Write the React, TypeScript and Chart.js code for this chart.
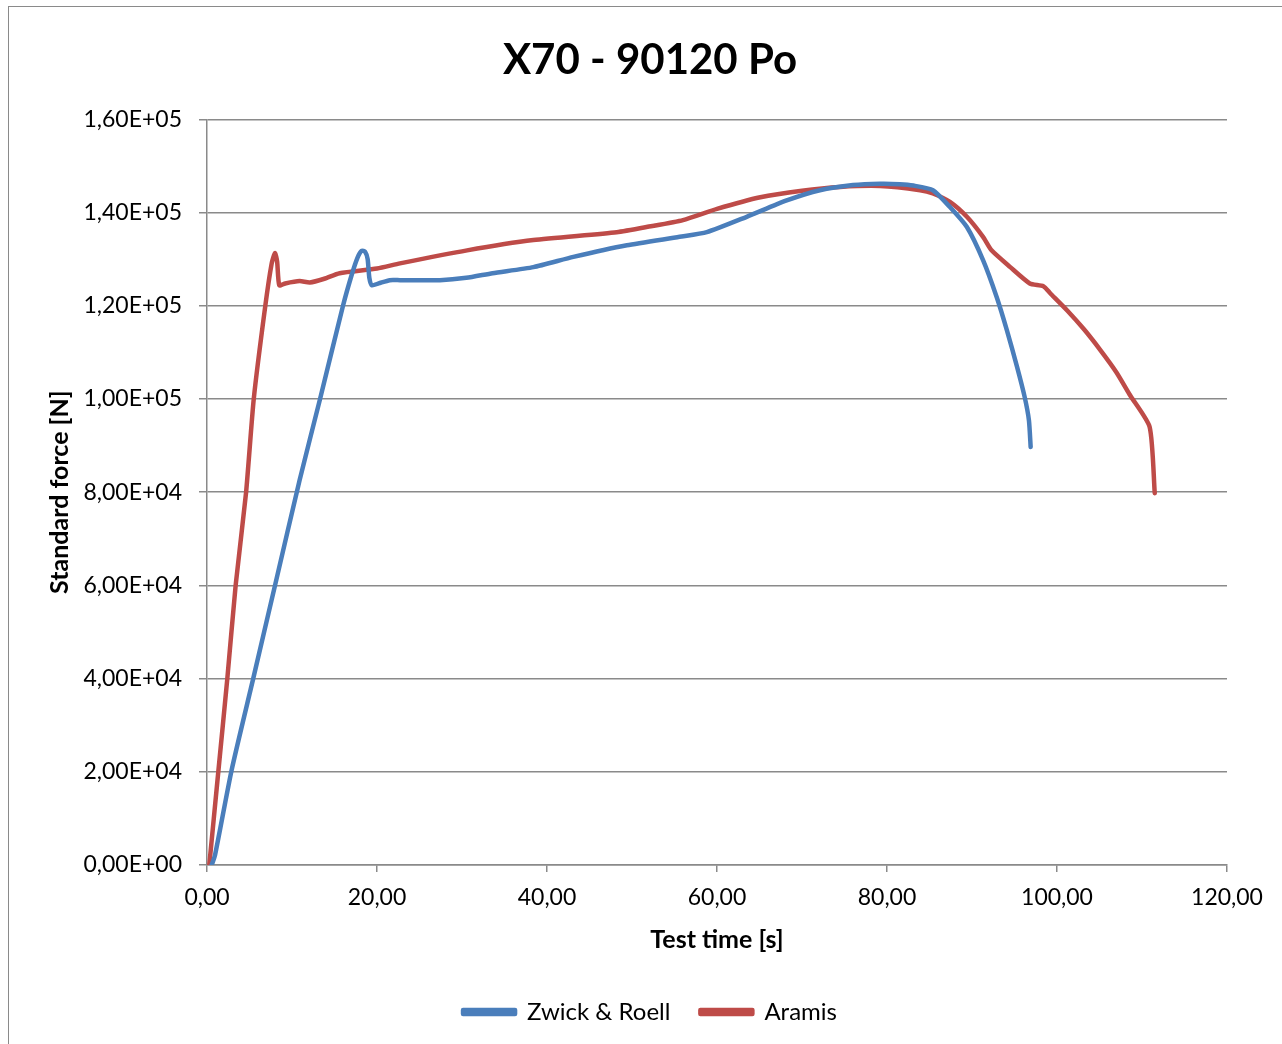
import React, { useEffect, useRef } from "react";
import { Chart, registerables } from "chart.js";

Chart.register(...registerables);

const TITLE = "X70 - 90120 Po";
const X_TITLE = "Test time [s]";
const Y_TITLE = "Standard force [N]";

const zwickLabel = "Zwick & Roell";
const zwickTime = [0.55, 0.94, 2.9, 5.45, 8.0, 10.9, 13.3, 16.0, 17.0, 17.7, 18.2, 18.6, 18.9, 19.1, 19.4, 20.2, 21.5, 22.7, 27.4, 30.5, 33.6, 38.4, 43.1, 49.4, 55.6, 58.8, 63.5, 68.2, 72.1, 76.0, 79.2, 81.5, 83.1, 85.4, 87.4, 89.4, 91.3, 92.9, 94.1, 95.3, 96.2, 96.7, 96.9];
const zwickForce = [0, 2100, 20400, 40100, 60000, 82600, 100000, 120000, 126500, 130300, 131800, 131600, 130000, 126000, 124400, 124800, 125500, 125500, 125500, 126000, 127000, 128300, 130500, 133000, 134800, 135800, 139100, 142600, 144800, 145900, 146200, 146100, 145800, 144800, 141200, 136900, 129800, 121900, 114800, 106900, 100400, 95400, 89700];

const aramisLabel = "Aramis";
const aramisTime = [0.27, 1.33, 2.39, 3.37, 4.6, 5.5, 6.86, 7.6, 8.0, 8.25, 8.5, 9.2, 10.9, 12.1, 13.8, 15.6, 20.0, 22.7, 30.6, 38.4, 48.2, 52.0, 56.0, 60.0, 65.1, 70.0, 74.5, 79.2, 83.9, 85.4, 87.4, 89.4, 91.3, 92.3, 94.5, 96.8, 98.4, 99.2, 101.2, 103.2, 105.1, 107.0, 108.6, 110.9, 111.5];
const aramisForce = [0, 20000, 40000, 60000, 80000, 100000, 120000, 129000, 131300, 129500, 124400, 124800, 125300, 125000, 125800, 127000, 128000, 129100, 131900, 134100, 135800, 137000, 138400, 140800, 143300, 144700, 145500, 145700, 144800, 144100, 142300, 139100, 134800, 131900, 128300, 124800, 124200, 122700, 119000, 114900, 110500, 105700, 100800, 94000, 79800];

const X_MIN = 0, X_MAX = 120, X_STEP = 20;
const Y_MIN = 0, Y_MAX = 160000, Y_STEP = 20000;

const FONT = "Lato, 'Open Sans', sans-serif";
const GRID = "#8a8a8a";

function fmtY(v: number): string {
  if (v === 0) return "0,00E+00";
  const e = Math.floor(Math.log10(Math.abs(v)) + 1e-9);
  const m = v / Math.pow(10, e);
  const sign = e < 0 ? "-" : "+";
  return m.toFixed(2).replace(".", ",") + "E" + sign + String(Math.abs(e)).padStart(2, "0");
}

export default function App() {
  const ref = useRef<HTMLCanvasElement | null>(null);
  useEffect(() => {
    document.body.style.margin = "0";
    document.documentElement.style.overflow = "hidden";
    const toPts = (xs: number[], ys: number[]) => xs.map((x, i) => ({ x, y: ys[i] }));
    const chart = new Chart(ref.current as HTMLCanvasElement, {
      type: "line",
      data: {
        datasets: [
          {
            label: zwickLabel,
            data: toPts(zwickTime, zwickForce),
            borderColor: "#4a7ebb",
            backgroundColor: "#4a7ebb",
            borderWidth: 4.5,
            pointRadius: 0,
            tension: 0.2,
            borderCapStyle: "round",
            borderJoinStyle: "round",
          },
          {
            label: aramisLabel,
            data: toPts(aramisTime, aramisForce),
            borderColor: "#be4b48",
            backgroundColor: "#be4b48",
            borderWidth: 4.5,
            pointRadius: 0,
            tension: 0.2,
            borderCapStyle: "round",
            borderJoinStyle: "round",
          },
        ],
      },
      options: {
        responsive: false,
        animation: false,
        devicePixelRatio: 1,
        layout: { padding: { left: 18, right: 0, top: 0, bottom: 10 } },
        plugins: {
          title: {
            display: true,
            text: TITLE,
            color: "#000",
            font: { family: FONT, size: 42, weight: "bold" },
            padding: { top: 35, bottom: 34 },
          },
          legend: {
            position: "bottom",
            labels: {
              color: "#000",
              font: { family: FONT, size: 24 },
              boxWidth: 52,
              boxHeight: 4,
              padding: 30,
            },
          },
          tooltip: { enabled: false },
        },
        scales: {
          x: {
            type: "linear",
            min: X_MIN,
            max: X_MAX,
            ticks: {
              stepSize: X_STEP,
              color: "#000",
              font: { family: FONT, size: 23 },
              padding: 12,
              maxRotation: 0,
              callback: (v: any) => Number(v).toFixed(2).replace(".", ","),
            },
            grid: { drawOnChartArea: false, drawTicks: true, tickLength: 7, color: GRID, lineWidth: 1.5 },
            border: { color: GRID, width: 1.5 },
            title: {
              display: true,
              text: X_TITLE,
              color: "#000",
              font: { family: FONT, size: 25, weight: "bold" },
              padding: { top: 0, bottom: 15 },
            },
            afterFit: (s: any) => { s.height = 105; },
          },
          y: {
            type: "linear",
            min: Y_MIN,
            max: Y_MAX,
            ticks: {
              stepSize: Y_STEP,
              color: "#000",
              font: { family: FONT, size: 23 },
              padding: 17,
              callback: (v: any) => fmtY(Number(v)),
            },
            grid: { drawTicks: true, tickLength: 8, color: GRID, lineWidth: 1.5 },
            border: { color: GRID, width: 1.5 },
            title: {
              display: true,
              text: Y_TITLE,
              color: "#000",
              font: { family: FONT, size: 25, weight: "bold" },
              padding: { top: 27, bottom: 0 },
            },
            afterFit: (s: any) => { s.width = 189; },
          },
          yRight: {
            type: "linear",
            position: "right",
            min: Y_MIN,
            max: Y_MAX,
            ticks: { display: false },
            grid: { display: false, drawTicks: false },
            border: { display: false },
            afterFit: (s: any) => { s.width = 55; },
          },
        },
      } as any,
    });
    return () => chart.destroy();
  }, []);
  return (
    <div style={{ position: "fixed", left: 0, top: 0, width: 1282, height: 1044, overflow: "hidden", background: "#fff" }}>
      <div style={{ position: "absolute", left: 8, top: 6, width: 1300, height: 1100, border: "1.5px solid #8a8a8a" }} />
      <canvas ref={ref} width={1282} height={1044} style={{ position: "absolute", left: 0, top: 0 }} />
    </div>
  );
}
